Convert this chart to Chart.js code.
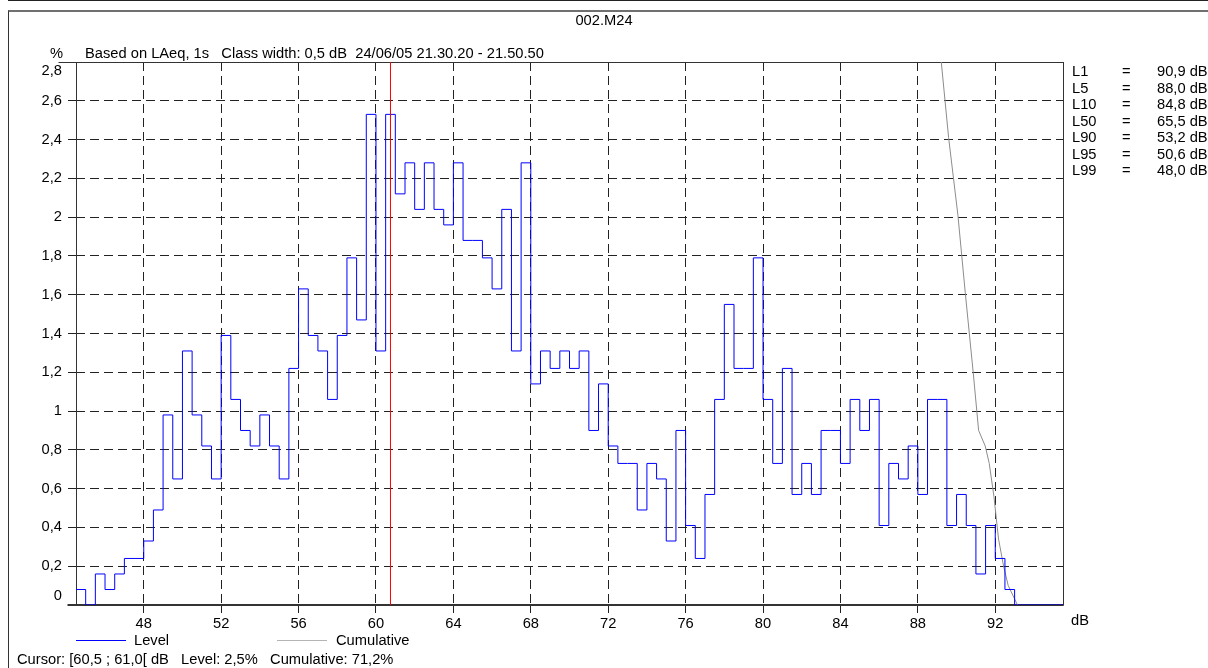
<!DOCTYPE html>
<html>
<head>
<meta charset="utf-8">
<title>002.M24</title>
<script src="https://cdn.jsdelivr.net/npm/chart.js@4.4.1/dist/chart.umd.min.js"></script>
<style>
  html, body { margin: 0; padding: 0; background: #fff; }
  body { width: 1208px; height: 668px; position: relative; overflow: hidden;
         font-family: "Liberation Sans", Arial, sans-serif; font-size: 14.7px; color: #000; }
  .txt { position: absolute; white-space: pre; line-height: 17px; }
  #prevPanel { position: absolute; left: 8px; top: -11px; width: 1300px; height: 10px; border: 1px solid #222; }
  #panel { position: absolute; left: 8px; top: 10px; width: 1300px; height: 700px;
           border-top: 2px solid #707070; border-left: 1px solid #333; }
  #wrap { position: absolute; left: 0; top: 0; width: 1208px; height: 668px; }
  .swatch { position: absolute; height: 0; width: 50px; border-top: 1px solid; }
</style>
</head>
<body>
<div id="prevPanel"></div>
<div id="panel"></div>
<div id="wrap"><canvas id="levelChart"></canvas></div>

<div class="txt" style="left:0; width:1208px; text-align:center; top:12px;">002.M24</div>
<div class="txt" style="left:50px; top:44.5px;">%</div>
<div class="txt" style="left:85px; top:44.5px;">Based on LAeq, 1s   Class width: 0,5 dB  24/06/05 21.30.20 - 21.50.50</div>
<div class="txt" style="left:1071px; top:611.5px;">dB</div>
<div id="stats"></div>
<div id="legend"></div>
<div class="txt" id="cursorText" style="left:17px; top:651.3px;"></div>

<script>
// histogram classes (dB) and level distribution (% of time)
const classStart = 44.5;
const classWidth = 0.5;
const levelPct = [
  0.08, 0, 0.16, 0.08, 0.16, 0.24, 0.24, 0.33, 0.49, 0.98,
  0.65, 1.31, 0.98, 0.82, 0.65, 1.39, 1.06, 0.90, 0.82, 0.98,
  0.82, 0.65, 1.22, 1.63, 1.39, 1.31, 1.06, 1.39, 1.79, 1.47,
  2.53, 1.31, 2.53, 2.12, 2.28, 2.04, 2.28, 2.04, 1.96, 2.28,
  1.88, 1.88, 1.79, 1.63, 2.04, 1.31, 2.28, 1.14, 1.31, 1.22,
  1.31, 1.22, 1.31, 0.90, 1.14, 0.82, 0.73, 0.73, 0.49, 0.73,
  0.65, 0.33, 0.90, 0.41, 0.24, 0.57, 1.06, 1.55, 1.22, 1.22,
  1.79, 1.06, 0.73, 1.22, 0.57, 0.73, 0.57, 0.90, 0.90, 0.73,
  1.06, 0.90, 1.06, 0.41, 0.73, 0.65, 0.82, 0.57, 1.06, 1.06,
  0.41, 0.57, 0.41, 0.16, 0.41, 0.24, 0.08, 0, 0, 0,
  0, 0
];

// cumulative curve, only the part that falls inside the % range
const cumulativeDb  = [89.0, 89.21, 89.59, 90.07, 90.45, 90.86, 91.14, 91.48, 91.69, 91.93, 92.17, 92.43, 92.67, 93.15];
const cumulativePct = [3.02, 2.80, 2.41, 2.01, 1.61, 1.20, 0.90, 0.82, 0.73, 0.56, 0.34, 0.20, 0.10, 0];

const xRange = [44.5, 95.5];
const yRange = [0, 2.8];
const xTickValues = [48, 52, 56, 60, 64, 68, 72, 76, 80, 84, 88, 92];
const yTickValues = [0, 0.2, 0.4, 0.6, 0.8, 1, 1.2, 1.4, 1.6, 1.8, 2, 2.2, 2.4, 2.6, 2.8];

const cursorBin = [60.5, 61.0];
const cursorLevel = 2.5;
const cursorCumulative = 71.2;

const statNames = ['L1', 'L5', 'L10', 'L50', 'L90', 'L95', 'L99'];
const statValues = [90.9, 88.0, 84.8, 65.5, 53.2, 50.6, 48.0];

const levelColor = '#0000ff';
const cumulativeColor = '#8c8c8c';
const fontFamily = '"Liberation Sans", Arial, sans-serif';

const fmt = (v, d) => v.toFixed(d).replace('.', ',');

// step points: each class starts at its lower edge, last one closed at upper edge
const levelPoints = levelPct.map((v, i) => ({ x: classStart + i * classWidth, y: v }));
levelPoints.push({ x: classStart + levelPct.length * classWidth, y: levelPct[levelPct.length - 1] });

const cumulativePoints = cumulativeDb.map((x, i) => ({ x: x, y: cumulativePct[i] }));

const cursorDb = (cursorBin[0] + cursorBin[1]) / 2;
const cursorPoints = [{ x: cursorDb, y: yRange[0] }, { x: cursorDb, y: yRange[1] }];

// frame around the plot area, under the data lines
const plotFrame = {
    id: 'plotFrame',
    beforeDatasetsDraw(chart) {
        const { ctx, chartArea: a } = chart;
        const l = Math.round(a.left) + 0.5, t = Math.round(a.top) + 0.5;
        const r = Math.round(a.right) + 0.5, b = Math.round(a.bottom);
        ctx.save();
        ctx.strokeStyle = '#333';
        ctx.lineWidth = 1;
        ctx.strokeRect(l, t, r - l, b - t);
        ctx.beginPath();
        ctx.moveTo(l - 18, t);
        ctx.lineTo(l, t);
        ctx.stroke();
        ctx.lineWidth = 2;
        ctx.beginPath();
        ctx.moveTo(l - 9, b);
        ctx.lineTo(r, b);
        ctx.stroke();
        ctx.restore();
    }
};

const tickFont = { family: fontFamily, size: 14.7 };

new Chart(document.getElementById('levelChart').getContext('2d'), {
    type: 'line',
    data: {
        datasets: [
            { label: 'Cursor', data: cursorPoints, borderColor: '#ff0000', borderWidth: 1, pointRadius: 0 },
            { label: 'Level', data: levelPoints, borderColor: levelColor, borderWidth: 1, pointRadius: 0, stepped: 'before' },
            { label: 'Cumulative', data: cumulativePoints, borderColor: cumulativeColor, borderWidth: 1, pointRadius: 0 }
        ]
    },
    options: {
        responsive: true,
        maintainAspectRatio: false,
        animation: false,
        layout: { padding: { top: 62, right: 145, bottom: 0, left: 0 } },
        plugins: { legend: { display: false }, tooltip: { enabled: false } },
        scales: {
            x: {
                type: 'linear',
                min: xRange[0],
                max: xRange[1],
                afterBuildTicks: s => { s.ticks = xTickValues.map(v => ({ value: v })); },
                afterFit: s => { s.height = 63; },
                grid: { color: '#222', tickColor: '#222', tickLength: 8 },
                border: { display: false, dash: [9, 5] },
                ticks: { color: '#000', font: tickFont, padding: 2, maxRotation: 0, autoSkip: false,
                         callback: v => String(v) }
            },
            y: {
                type: 'linear',
                min: yRange[0],
                max: yRange[1],
                afterBuildTicks: s => { s.ticks = yTickValues.map(v => ({ value: v })); },
                afterFit: s => { s.width = 76; },
                grid: { color: '#222', tickColor: '#222', tickLength: 8 },
                border: { display: false, dash: [9, 5] },
                ticks: {
                    color: '#000', font: tickFont, padding: 6, autoSkip: false,
                    callback: function (value, index, ticks) {
                        const s = fmt(value, 1).replace(/,0$/, '');
                        // first and last labels are nudged inside the axis
                        if (index === ticks.length - 1) return ['', s];
                        if (index === 0) return [s, ''];
                        return s;
                    }
                }
            }
        }
    },
    plugins: [plotFrame]
});

// percentile table on the right
const stats = document.getElementById('stats');
statNames.forEach((name, i) => {
    const top = 63 + i * 16.5;
    stats.insertAdjacentHTML('beforeend',
        `<div class="txt" style="left:1072px; top:${top}px;">${name}</div>` +
        `<div class="txt" style="left:1122px; top:${top}px;">=</div>` +
        `<div class="txt" style="left:1157px; top:${top}px;">${fmt(statValues[i], 1)} dB</div>`);
});

// legend under the axis
document.getElementById('legend').innerHTML =
    `<div class="swatch" style="left:76px; top:640px; border-color:${levelColor};"></div>` +
    `<div class="txt" style="left:134px; top:631.6px;">Level</div>` +
    `<div class="swatch" style="left:277px; top:640px; border-color:#b4b4b4;"></div>` +
    `<div class="txt" style="left:336px; top:631.6px;">Cumulative</div>`;

document.getElementById('cursorText').textContent =
    `Cursor: [${fmt(cursorBin[0], 1)} ; ${fmt(cursorBin[1], 1)}[ dB   Level: ${fmt(cursorLevel, 1)}%   Cumulative: ${fmt(cursorCumulative, 1)}%`;
</script>
</body>
</html>
